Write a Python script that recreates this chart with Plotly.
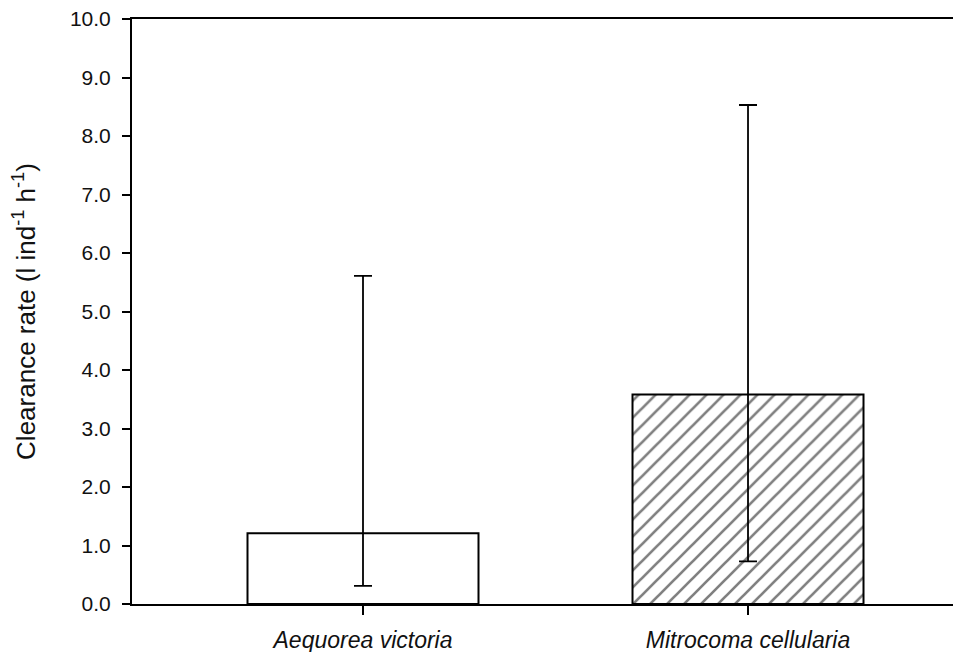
import plotly.graph_objects as go

species = ["Aequorea victoria", "Mitrocoma cellularia"]
clearance_rate = [1.21, 3.58]
err_plus = [4.40, 4.95]
err_minus = [0.90, 2.85]
y_ticks = [0, 1, 2, 3, 4, 5, 6, 7, 8, 9, 10]
patterns = ["", "/"]

x_pos = list(range(len(species)))
FONT = "Liberation Sans, Arial, sans-serif"

fig = go.Figure()
fig.add_trace(go.Bar(
    x=x_pos,
    y=clearance_rate,
    width=0.6,
    marker=dict(
        color="white",
        line=dict(color="black", width=2),
        pattern=dict(shape=patterns, fgcolor="black", bgcolor="white",
                     size=12, solidity=0.22),
    ),
    error_y=dict(type="data", symmetric=False, array=err_plus,
                 arrayminus=err_minus, color="black", thickness=1.8, width=9),
    showlegend=False,
))

# page body adds an 8px offset; margins compensate
fig.update_layout(
    width=961, height=652,
    margin=dict(l=124, r=0, t=11, b=56, autoexpand=False),
    plot_bgcolor="white", paper_bgcolor="white",
    font=dict(family=FONT, size=21, color="#111111"),
    bargap=0.4,
)
fig.update_xaxes(
    range=[-0.6, 1.574],
    tickmode="array", tickvals=x_pos,
    ticktext=["<i>" + s + "</i>" for s in species],
    showline=True, linecolor="black", linewidth=2, mirror=True,
    ticks="outside", ticklen=9, tickwidth=2, tickcolor="black",
    ticklabelstandoff=5,
    tickfont=dict(family=FONT, size=23, color="#111111"),
    showgrid=False, zeroline=False, automargin=False,
)
fig.update_yaxes(
    range=[0, 10],
    tickmode="array", tickvals=y_ticks,
    ticktext=[f"{v:.1f}" for v in y_ticks],
    showline=True, linecolor="black", linewidth=2,
    ticks="outside", ticklen=8, tickwidth=2, tickcolor="black",
    ticklabelstandoff=7, ticklabeloverflow="allow",
    tickfont=dict(family=FONT, size=21, color="#111111"),
    showgrid=False, zeroline=False, automargin=False,
)
fig.update_layout(yaxis_title=dict(
    text="Clearance rate (l ind<sup>-1</sup> h<sup>-1</sup>)", standoff=35,
    font=dict(family=FONT, size=26, color="#111111")))

fig.write_html("out.html")
